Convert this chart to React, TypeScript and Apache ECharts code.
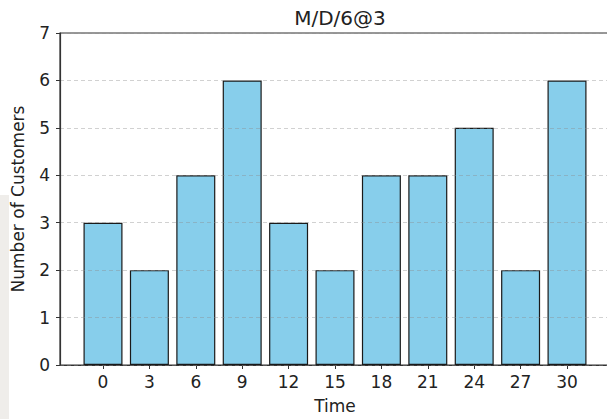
import React, { useEffect, useRef } from "react";
import * as echarts from "echarts";

const times = [0, 3, 6, 9, 12, 15, 18, 21, 24, 27, 30];
const customers = [3, 2, 4, 6, 3, 2, 4, 4, 5, 2, 6];
const xTicks = [0, 3, 6, 9, 12, 15, 18, 21, 24, 27, 30];
const title = "M/D/6@3";

export default function App() {
  const ref = useRef<HTMLDivElement>(null);
  useEffect(() => {
    document.body.style.margin = "0";
    document.body.style.overflow = "hidden";
    const chart = echarts.init(ref.current!, null, { renderer: "svg" });
    const font = "DejaVu Sans";
    chart.setOption({
      animation: false,
      backgroundColor: "#ffffff",
      textStyle: { fontFamily: font },
      title: {
        text: title,
        left: 335,
        textAlign: "center",
        top: 3,
        textStyle: { fontFamily: font, fontSize: 20, fontWeight: "normal", color: "#222" },
      },
      graphic: [
        {
          type: "rect",
          shape: { x: 0, y: 195, width: 9, height: 224 },
          style: { fill: "#efedea" },
          silent: true,
        },
      ],
      grid: { left: 60, top: 33, width: 550, height: 340, show: true, borderColor: "#333", borderWidth: 1.2, backgroundColor: "transparent" },
      xAxis: {
        type: "value",
        min: -2.78,
        max: 32.78,
        name: "Time",
        nameLocation: "middle",
        nameGap: 32,
        nameTextStyle: { fontFamily: font, fontSize: 17, color: "#222" },
        axisLine: { show: true, onZero: false, lineStyle: { color: "#333", width: 1.2 } },
        axisTick: { show: true, length: 4, customValues: xTicks, lineStyle: { color: "#333" } },
        axisLabel: { customValues: xTicks, margin: 8, fontFamily: font, fontSize: 17, color: "#222" },
        splitLine: { show: false },
      },
      yAxis: {
        type: "value",
        min: 0,
        max: 7,
        interval: 1,
        z: 3,
        name: "Number of Customers",
        nameLocation: "middle",
        nameGap: 34,
        nameTextStyle: { fontFamily: font, fontSize: 17, color: "#222" },
        axisLine: { show: true, onZero: false, lineStyle: { color: "#333", width: 1.2 } },
        axisTick: { show: true, length: 4, lineStyle: { color: "#333" } },
        axisLabel: { margin: 10, fontFamily: font, fontSize: 17, color: "#222" },
        splitLine: { show: true, lineStyle: { color: "rgba(140,140,140,0.4)", type: [4, 3], width: 1 } },
      },
      series: [
        {
          type: "bar",
          data: times.map((t, i) => [t, customers[i]]),
          barWidth: 39,
          itemStyle: { color: "#87CEEB", borderColor: "#1a1a1a", borderWidth: 1.2 },
          z: 1,
        },
      ],
    });
    return () => chart.dispose();
  }, []);
  return <div ref={ref} style={{ position: "absolute", left: 0, top: 0, width: 620, height: 419 }} />;
}
